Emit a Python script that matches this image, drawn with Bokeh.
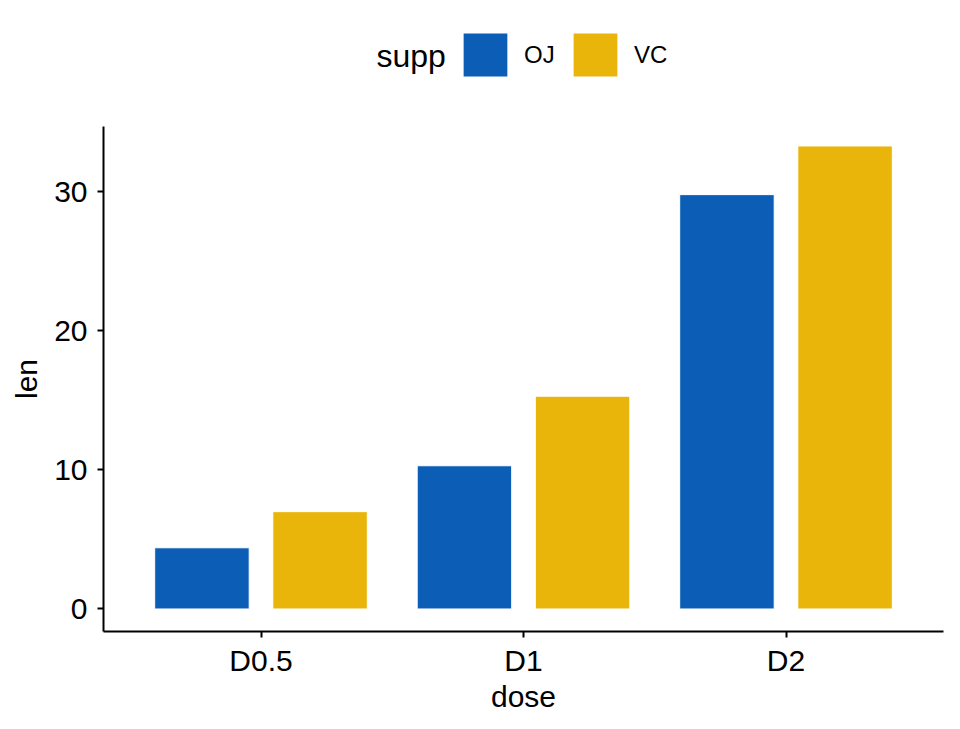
from bokeh.plotting import figure
from bokeh.layouts import column
from bokeh.models import (FactorRange, Range1d, Legend, LegendItem, Label,
                          FixedTicker, ColumnDataSource)
from bokeh.transform import dodge
from bokeh.embed import file_html
from bokeh.resources import INLINE

doses = ["D0.5", "D1", "D2"]
supp = ["OJ", "VC"]
oj_len = [4.4, 10.3, 29.8]
vc_len = [7.0, 15.3, 33.3]
y_ticks = [0, 10, 20, 30]
colors = {"OJ": "#0C5DB6", "VC": "#E9B50A"}

FONT = "Liberation Sans"
BIG = "30px"

src = ColumnDataSource(dict(dose=doses, OJ=oj_len, VC=vc_len))

# ---------------- legend strip (frame aligned with the chart frame) ----------------
leg = figure(width=960, height=100, output_backend="svg", toolbar_location=None,
             x_range=FactorRange(factors=doses), y_range=Range1d(100, 101),
             x_axis_type=None, y_axis_type=None,
             min_border_left=0, min_border_right=0,
             min_border_top=0, min_border_bottom=0)
leg.outline_line_color = None
leg.xgrid.visible = False
leg.ygrid.visible = False
# same bars, kept out of this strip's view: only their legend swatches show
d_oj = leg.vbar(x="dose", top="OJ", bottom=0, width=0.36, source=src,
                fill_color=colors["OJ"], line_color="white", line_width=1)
d_vc = leg.vbar(x="dose", top="VC", bottom=0, width=0.36, source=src,
                fill_color=colors["VC"], line_color="white", line_width=1)
legend = Legend(items=[LegendItem(label=supp[0], renderers=[d_oj]),
                       LegendItem(label=supp[1], renderers=[d_vc])],
                orientation="horizontal", location=(354, 18),
                glyph_width=56, glyph_height=55, label_standoff=11,
                label_width=34, spacing=9, padding=0, margin=0,
                border_line_color=None, background_fill_alpha=0,
                label_text_font=FONT, label_text_font_size="24px",
                label_text_color="black")
leg.add_layout(legend, "center")
leg.add_layout(Label(x=273, y=45, x_units="screen", y_units="screen",
                     text="supp", text_font=FONT, text_font_size="32px",
                     text_color="black", text_baseline="middle",
                     text_align="left"))

# ---------------- main chart ----------------
p = figure(width=960, height=629, output_backend="svg", toolbar_location=None,
           x_range=FactorRange(factors=doses, range_padding=0.1,
                               range_padding_units="absolute"),
           y_range=Range1d(-1.62, 34.7),
           min_border_left=103, min_border_right=17,
           min_border_top=26, min_border_bottom=98)
p.outline_line_color = None
p.xgrid.visible = False
p.ygrid.visible = False

r_oj = p.vbar(x=dodge("dose", -0.225, range=p.x_range), top="OJ", bottom=0,
              width=0.36, source=src, fill_color=colors["OJ"],
              line_color="white", line_width=1)
r_vc = p.vbar(x=dodge("dose", 0.225, range=p.x_range), top="VC", bottom=0,
              width=0.36, source=src, fill_color=colors["VC"],
              line_color="white", line_width=1)

for ax in (p.xaxis[0], p.yaxis[0]):
    ax.axis_line_width = 2
    ax.axis_line_color = "black"
    ax.major_tick_line_width = 2
    ax.major_tick_line_color = "black"
    ax.major_tick_out = 6
    ax.major_tick_in = 0
    ax.minor_tick_line_color = None
    ax.major_label_text_font = FONT
    ax.major_label_text_font_size = BIG
    ax.major_label_text_color = "black"
    ax.axis_label_text_font = FONT
    ax.axis_label_text_font_size = BIG
    ax.axis_label_text_font_style = "normal"
    ax.axis_label_text_color = "black"

p.yaxis[0].ticker = FixedTicker(ticks=y_ticks)
p.yaxis[0].axis_label = "len"
p.yaxis[0].major_label_standoff = 10
p.yaxis[0].axis_label_standoff = 8
p.xaxis[0].axis_label = "dose"
p.xaxis[0].major_label_standoff = 6
p.xaxis[0].axis_label_standoff = 0

layout = column(leg, p, spacing=0)
open("out.html", "w").write(file_html(layout, INLINE))
